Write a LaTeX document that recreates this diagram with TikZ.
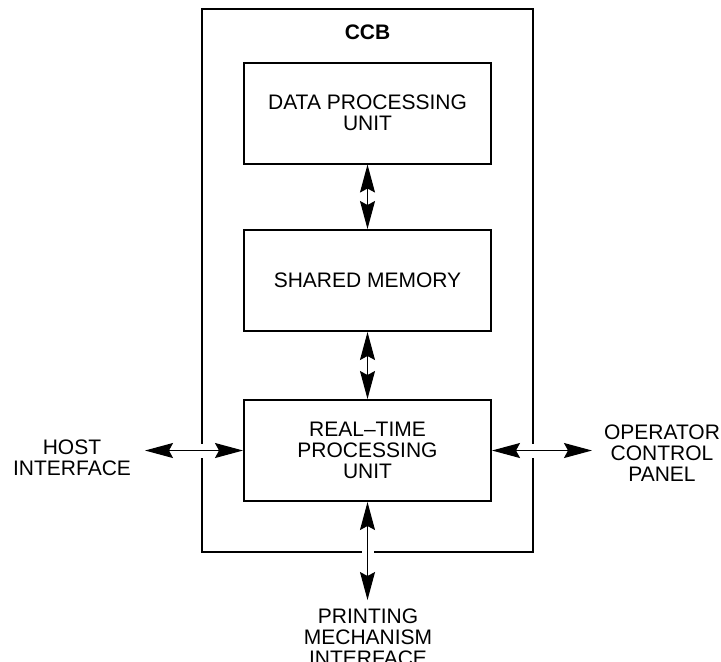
\documentclass[tikz,border=0pt]{standalone}
\usepackage{fontspec}
\setmainfont{Liberation Sans}
\usepackage{tikz}
\usetikzlibrary{arrows.meta,positioning,calc}
\tikzset{
  unit/.style  ={draw, rectangle, line width=1pt, align=center, inner sep=2pt,
                 minimum width=123.5pt, minimum height=50.5pt},
  frm/.style   ={draw, rectangle, line width=0.6pt, inner sep=0pt,
                 minimum width=165.5pt, minimum height=271.5pt},
  lbl/.style   ={align=center, inner sep=0pt},
  gapv/.style  ={fill=white, inner sep=0pt, minimum width=3pt, minimum height=7pt},
  gaph/.style  ={fill=white, inner sep=0pt, minimum width=6pt, minimum height=3pt},
  bi/.style    ={{Stealth[length=14pt, width=7.5pt, inset=2pt]}-{Stealth[length=14pt, width=7.5pt, inset=2pt]},
                 line width=0.6pt},
}

\begin{document}
\fontsize{10.5}{10.5}\selectfont
\begin{tikzpicture}[x=0.5pt,y=-0.5pt]
\useasboundingbox (0,0) rectangle (721,661);
% board and its three units
\node[frm] (ccb) at (367.5,280.5) {};
\node[lbl, font=\bfseries] (ccbname) at (367.5,32) {CCB};
\node[unit] (dpu) at (367.5,113)   {DATA PROCESSING\\UNIT};
\node[unit] (mem) at (367.5,280.5) {SHARED MEMORY};
\node[unit] (rtu) at (367.5,450.5) {REAL--TIME\\PROCESSING\\UNIT};
% outside world
\node[lbl] (host)  at (72,458)  {HOST\\INTERFACE};
\node[lbl] (panel) at (662,453) {OPERATOR\\CONTROL\\PANEL};
\node[lbl] (print) at (368,637) {PRINTING\\MECHANISM\\INTERFACE};
\coordinate (hostend)  at (145,450.5);
\coordinate (panelend) at (592,450.5);
\coordinate (printend) at (368,600);
% breaks in the board outline
\node[gapv] (gapl) at (ccb.west |- rtu.west) {};
\node[gapv] (gapr) at (ccb.east |- rtu.east) {};
\node[gaph] (gapb) at (ccb.south) {};
\draw[bi] (dpu) -- (mem);
\draw[bi] (mem) -- (rtu);
\draw[bi] (hostend) -- (rtu.west);
\draw[bi] (rtu.east) -- (panelend);
\draw[bi] (rtu.south) -- (rtu.south |- printend);
\end{tikzpicture}
\end{document}
